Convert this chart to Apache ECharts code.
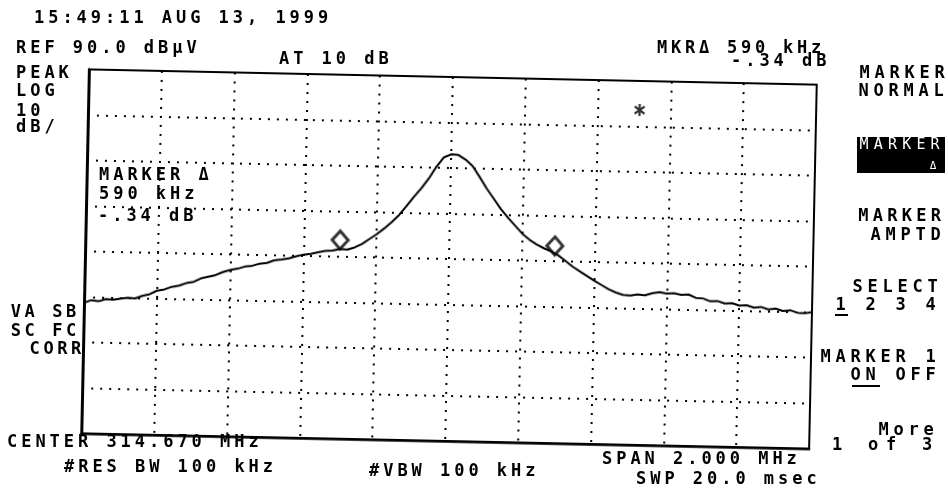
<!DOCTYPE html>
<html>
<head>
<meta charset="utf-8">
<title>Spectrum analyzer plot</title>
<script src="https://cdn.jsdelivr.net/npm/echarts@6/dist/echarts.min.js"></script>
<style>
  html, body { margin: 0; padding: 0; background: #fff; }
  #wrap { position: relative; width: 948px; height: 492px; overflow: hidden; }
  #plot, #labels { position: absolute; left: 0; top: 0; width: 948px; height: 492px; }
  /* the printout is a little tilted */
  #plot { transform: rotate(1.2deg); transform-origin: 449px 259px; }
</style>
</head>
<body>
<div id="wrap">
  <div id="plot"></div>
  <div id="labels"></div>
</div>
<script>
// offset from center frequency (kHz), 200 kHz / div
const freqs = [
  -1000, -980, -960, -940, -920, -900, -880, -860, -840, -820,
  -800, -780, -760, -740, -720, -700, -680, -660, -640, -620,
  -600, -580, -560, -540, -520, -500, -480, -460, -440, -420,
  -400, -380, -360, -340, -320, -300, -280, -260, -240, -220,
  -200, -180, -160, -140, -120, -100, -80, -60, -40, -20,
  0, 20, 40, 60, 80, 100, 120, 140, 160, 180,
  200, 220, 240, 260, 280, 300, 320, 340, 360, 380,
  400, 420, 440, 460, 480, 500, 520, 540, 560, 580,
  600, 620, 640, 660, 680, 700, 720, 740, 760, 780,
  800, 820, 840, 860, 880, 900, 920, 940, 960, 980, 1000
];
// trace level (dBuV)
const levels = [
  38.7, 39.3, 39.1, 39.6, 39.5, 39.8, 40.0, 39.9, 40.5, 40.9,
  41.7, 42.0, 42.6, 42.9, 43.5, 43.8, 44.6, 45.0, 45.4, 46.1,
  46.6, 46.9, 47.4, 47.6, 48.1, 48.3, 48.9, 49.1, 49.4, 49.9,
  50.3, 50.5, 50.9, 51.2, 51.3, 51.7, 51.6, 52.1, 52.9, 54.0,
  55.1, 56.4, 57.8, 59.4, 61.4, 63.5, 65.4, 67.6, 70.2, 72.3,
  73.0, 72.9, 71.9, 70.5, 68.1, 65.6, 63.4, 61.2, 59.3, 57.6,
  55.9, 54.6, 53.6, 52.8, 52.1, 51.3, 50.1, 48.9, 47.9, 46.9,
  45.9, 45.0, 44.1, 43.4, 42.9, 42.8, 43.1, 42.9, 43.4, 43.7,
  43.4, 43.5, 43.2, 43.3, 42.6, 42.5, 41.9, 42.0, 41.5, 41.6,
  41.1, 41.2, 40.7, 40.9, 40.4, 40.6, 40.1, 40.3, 39.8, 39.7, 40.0
];
// delta marker pair
const markerFreqs = [-300, 290];
const markerLevels = [51.7, 51.4];
// the '*' on screen
const starFreqs = [515];
const starLevels = [83.6];

// screen scale
const spanMin = -1000, spanMax = 1000, freqStep = 200;
const refLevel = 90, bottomLevel = 10, dbPerDiv = 10;

const dotted = { color: '#000', width: 2, type: [2, 7] };

const plot = echarts.init(document.getElementById('plot'));
plot.setOption({
  animation: false,
  grid: {
    left: 85, top: 77, width: 728, height: 364,
    show: true, borderColor: '#000', borderWidth: 2
  },
  xAxis: {
    type: 'value', min: spanMin, max: spanMax, interval: freqStep,
    axisLine: { show: true, onZero: false, lineStyle: { color: '#000', width: 2.5 } },
    axisTick: { show: false }, axisLabel: { show: false },
    splitLine: { show: true, lineStyle: dotted }
  },
  yAxis: {
    type: 'value', min: bottomLevel, max: refLevel, interval: dbPerDiv,
    axisLine: { show: true, onZero: false, lineStyle: { color: '#000', width: 3 } },
    axisTick: { show: false }, axisLabel: { show: false },
    splitLine: { show: true, lineStyle: dotted }
  },
  series: [
    {
      name: 'trace', type: 'line', silent: true,
      data: freqs.map((f, i) => [f, levels[i]]),
      symbol: 'none', lineStyle: { color: '#000', width: 2 }
    },
    {
      name: 'markers', type: 'scatter', silent: true,
      data: markerFreqs.map((f, i) => [f, markerLevels[i]]),
      symbol: 'diamond', symbolSize: [16, 18], symbolOffset: [0, -9],
      itemStyle: { color: '#fff', borderColor: '#000', borderWidth: 3 }
    },
    {
      name: 'star', type: 'scatter', silent: true,
      data: starFreqs.map((f, i) => [f, starLevels[i]]),
      symbol: 'path://M4,0H6V10H4Z M0,2.9L1,1.2L10,7.1L9,8.8Z M0,7.1L9,1.2L10,2.9L1,8.8Z',
      symbolSize: [11, 12], itemStyle: { color: '#000' }
    }
  ]
});

// annotation text, fixed pitch like the analyzer font
const FONT = '"DejaVu Sans Mono", "Liberation Mono", monospace';

function mono(s) {
  return s.split('').map(ch => '{c|' + ch + '}').join('');
}

function txt(str, x, y, o) {
  o = o || {};
  const pitch = o.pitch || 14.2;
  const align = o.right ? 'right' : 'left';
  return {
    type: 'text', x: x, y: y, silent: true, z: 10,
    style: {
      text: mono(str),
      align: align, textAlign: align,
      verticalAlign: 'middle', textVerticalAlign: 'middle',
      fill: o.color || '#000',
      rich: {
        c: {
          width: pitch, align: 'center',
          fontFamily: FONT, fontSize: o.size || 17,
          fontWeight: o.weight || 'bold',
          fill: o.color || '#000'
        }
      }
    }
  };
}

const graphics = [
  txt('15:49:11 AUG 13, 1999', 32, 19),
  txt('REF 90.0 dBμV', 14, 49),
  txt('AT 10 dB', 277, 60),
  txt('MKRΔ 590 kHz', 655, 49, { pitch: 14 }),
  txt('-.34 dB', 729, 62),
  txt('PEAK', 14, 74),
  txt('LOG', 14, 92),
  txt('10', 14, 112),
  txt('dB/', 14, 128),
  txt('MARKER Δ', 97, 176),
  txt('590 kHz', 97, 195),
  txt('-.34 dB', 96, 217),
  txt('VA SB', 9, 313, { pitch: 13.8 }),
  txt('SC FC', 9, 332, { pitch: 13.8 }),
  txt('CORR', 83, 350, { pitch: 13.8, right: true }),
  txt('CENTER 314.670 MHz', 5, 443),
  txt('#RES BW 100 kHz', 62, 468),
  txt('#VBW 100 kHz', 367, 472),
  txt('SPAN 2.000 MHz', 600, 460),
  txt('SWP 20.0 msec', 634, 480),
  // softkeys
  txt('MARKER', 947, 74, { pitch: 15, right: true }),
  txt('NORMAL', 946, 92, { pitch: 15, right: true }),
  {
    type: 'rect', silent: true, z: 9,
    shape: { x: 857, y: 137, width: 88, height: 36 },
    style: { fill: '#000' }
  },
  txt('MARKER', 857, 145, { color: '#fff', weight: 'normal', size: 15 }),
  txt('Δ', 926, 166, { color: '#fff', weight: 'normal', size: 11 }),
  txt('MARKER', 943, 217, { pitch: 14.5, right: true }),
  txt('AMPTD', 943, 236, { pitch: 15, right: true }),
  txt('SELECT', 940, 288, { pitch: 15, right: true }),
  txt('1 2 3 4', 938, 306, { pitch: 15, right: true }),
  txt('MARKER 1', 938, 358, { pitch: 15, right: true }),
  txt('ON OFF', 938, 376, { pitch: 15, right: true }),
  txt('More', 936, 431, { pitch: 15, right: true }),
  txt('1 of 3', 936, 446, { pitch: 18, right: true }),
  // underlines for the active choices
  {
    type: 'line', silent: true, z: 10,
    shape: { x1: 835, y1: 315, x2: 848, y2: 315 },
    style: { stroke: '#000', lineWidth: 2 }
  },
  {
    type: 'line', silent: true, z: 10,
    shape: { x1: 852, y1: 386, x2: 880, y2: 386 },
    style: { stroke: '#000', lineWidth: 2 }
  }
];

const labels = echarts.init(document.getElementById('labels'));
labels.setOption({ animation: false, graphic: graphics });
</script>
</body>
</html>
